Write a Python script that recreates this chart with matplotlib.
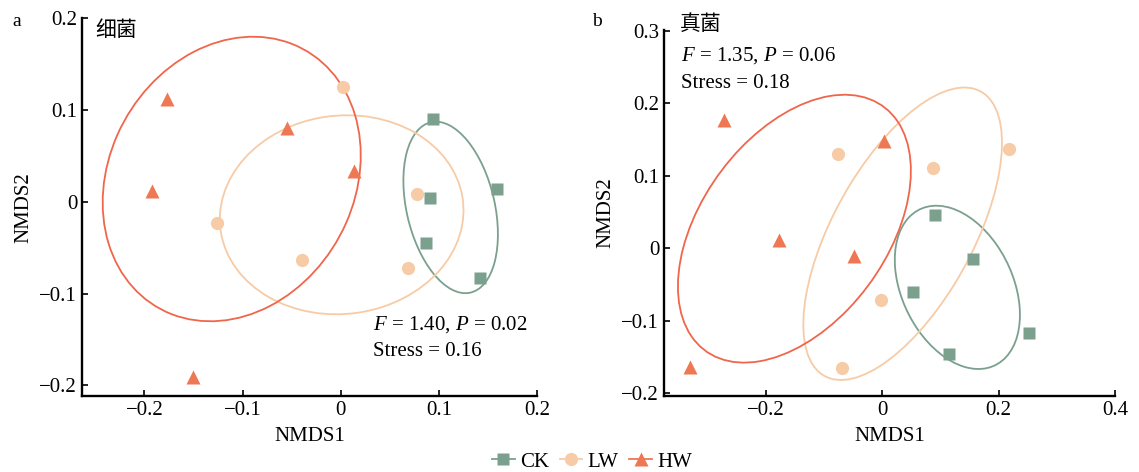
import matplotlib.pyplot as plt
import matplotlib.patches as patches
from matplotlib.lines import Line2D

plt.rcParams['font.family'] = ['Liberation Serif', 'Noto Sans CJK SC']
plt.rcParams['mathtext.fontset'] = 'custom'
plt.rcParams['mathtext.it'] = 'Liberation Serif:italic'
plt.rcParams['mathtext.rm'] = 'Liberation Serif'

grupos = ['CK', 'LW', 'HW']
colores = {'CK': '#7ba08e', 'LW': '#f6cba6', 'HW': '#ee7754'}
colores_elipse = {'CK': '#7ba08e', 'LW': '#f6cba6', 'HW': '#f0664b'}
marcadores = {'CK': 's', 'LW': 'o', 'HW': '^'}
tamanos = {'CK': 9, 'LW': 9.5, 'HW': 10}

# Panel a: bacterias
a_ck_x = [0.094, 0.159, 0.091, 0.087, 0.142]
a_ck_y = [0.090, 0.014, 0.004, -0.045, -0.083]
a_lw_x = [0.002, -0.126, -0.039, 0.078, 0.069]
a_lw_y = [0.125, -0.023, -0.063, 0.009, -0.072]
a_hw_x = [-0.177, -0.055, 0.014, -0.192, -0.150]
a_hw_y = [0.112, 0.081, 0.034, 0.012, -0.191]
# elipses: centro x, centro y, ancho, alto, angulo
a_elipse_cx = [0.112, 0.001, -0.111]
a_elipse_cy = [-0.006, -0.014, 0.025]
a_elipse_w = [0.190, 0.249, 0.319]
a_elipse_h = [0.090, 0.216, 0.252]
a_elipse_ang = [-78.2, 9.2, 67.5]

# Panel b: hongos
b_ck_x = [0.091, 0.156, 0.053, 0.114, 0.252]
b_ck_y = [0.046, -0.015, -0.061, -0.146, -0.117]
b_lw_x = [-0.076, 0.087, 0.218, -0.002, -0.069]
b_lw_y = [0.130, 0.111, 0.137, -0.072, -0.166]
b_hw_x = [-0.272, 0.003, -0.177, -0.049, -0.330]
b_hw_y = [0.177, 0.148, 0.012, -0.011, -0.164]
b_elipse_cx = [0.129, 0.035, -0.151]
b_elipse_cy = [-0.054, 0.020, 0.027]
b_elipse_w = [0.255, 0.478, 0.462]
b_elipse_h = [0.179, 0.226, 0.289]
b_elipse_ang = [-49.0, 52.6, 39.8]


def dibujar_panel(ax, xs, ys, cx, cy, w, h, ang):
    for i, g in enumerate(grupos):
        e = patches.Ellipse((cx[i], cy[i]), w[i], h[i], angle=ang[i],
                            fill=False, edgecolor=colores_elipse[g], lw=1.3)
        ax.add_patch(e)
    for i, g in enumerate(grupos):
        ax.plot(xs[i], ys[i], marcadores[g], color=colores[g],
                ms=tamanos[g], mec='none', ls='none')
    for lado in ['top', 'right']:
        ax.spines[lado].set_visible(False)
    for lado in ['left', 'bottom']:
        ax.spines[lado].set_linewidth(1.7)
    ax.tick_params(direction='in', length=4, width=1.2, labelsize=15)
    ax.set_xlabel('NMDS1', fontsize=15, labelpad=5)
    ax.set_ylabel('NMDS2', fontsize=15, labelpad=4)


fig = plt.figure(figsize=(11.39, 4.72), dpi=100)
ax1 = fig.add_axes([0.072, 0.161, 0.3995, 0.800])
ax2 = fig.add_axes([0.583, 0.161, 0.396, 0.775])

dibujar_panel(ax1, [a_ck_x, a_lw_x, a_hw_x], [a_ck_y, a_lw_y, a_hw_y],
              a_elipse_cx, a_elipse_cy, a_elipse_w, a_elipse_h, a_elipse_ang)
ax1.set_xlim(-0.2635, 0.2)
ax1.set_ylim(-0.2115, 0.2)
ax1.set_xticks([-0.2, -0.1, 0, 0.1, 0.2])
ax1.set_xticklabels(['\u22120.2', '\u22120.1', '0', '0.1', '0.2'])
ax1.set_yticks([-0.2, -0.1, 0, 0.1, 0.2])
ax1.set_yticklabels(['\u22120.2', '\u22120.1', '0', '0.1', '0.2'])
ax1.text(0.03, 0.969, '细菌', transform=ax1.transAxes, fontsize=15,
         family=['Noto Sans CJK SC'], va='center', ha='left')
ax1.text(0.64, 0.19, '$F$ = 1.40, $P$ = 0.02', transform=ax1.transAxes,
         fontsize=15, va='center', ha='left')
ax1.text(0.64, 0.117, 'Stress = 0.16', transform=ax1.transAxes,
         fontsize=15, va='center', ha='left')

dibujar_panel(ax2, [b_ck_x, b_lw_x, b_hw_x], [b_ck_y, b_lw_y, b_hw_y],
              b_elipse_cx, b_elipse_cy, b_elipse_w, b_elipse_h, b_elipse_ang)
ax2.set_xlim(-0.375, 0.4)
ax2.set_ylim(-0.204, 0.301)
ax2.set_xticks([-0.2, 0, 0.2, 0.4])
ax2.set_xticklabels(['\u22120.2', '0', '0.2', '0.4'])
ax2.set_yticks([-0.2, -0.1, 0, 0.1, 0.2, 0.3])
ax2.set_yticklabels(['\u22120.2', '\u22120.1', '0', '0.1', '0.2', '0.3'])
ax2.text(0.035, 1.017, '真菌', transform=ax2.transAxes, fontsize=15,
         family=['Noto Sans CJK SC'], va='center', ha='left')
ax2.text(0.037, 0.93, '$F$ = 1.35, $P$ = 0.06', transform=ax2.transAxes,
         fontsize=15, va='center', ha='left')
ax2.text(0.037, 0.855, 'Stress = 0.18', transform=ax2.transAxes,
         fontsize=15, va='center', ha='left')

fig.text(17 / 1139, 1 - 22 / 472, 'a', fontsize=14, va='center', ha='center')
fig.text(597 / 1139, 1 - 22 / 472, 'b', fontsize=14, va='center', ha='center')

manejadores = [Line2D([0], [0], color=colores[g], marker=marcadores[g],
                      ms=tamanos[g], mec='none', lw=1.3) for g in grupos]
fig.legend(manejadores, grupos, loc='center', bbox_to_anchor=(592 / 1139, 1 - 462 / 472),
           ncol=3, frameon=False, fontsize=15, handlelength=1.1,
           handletextpad=0.25, columnspacing=0.5, borderpad=0.1)

plt.savefig('out.png', dpi=100)
plt.close()
